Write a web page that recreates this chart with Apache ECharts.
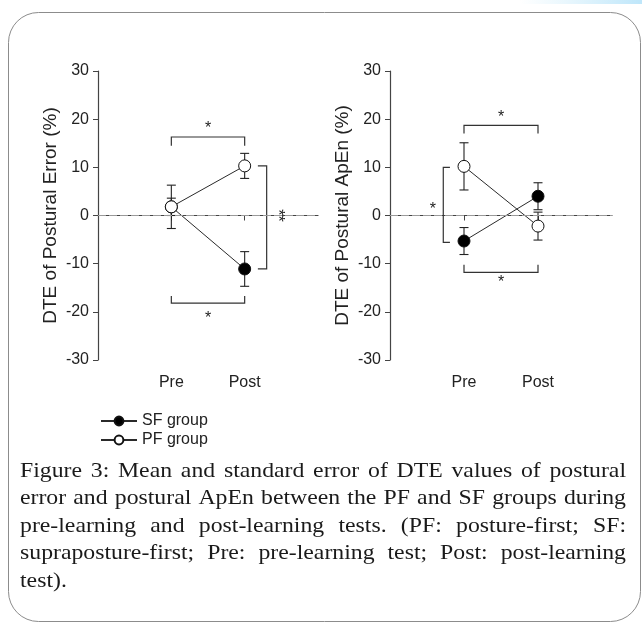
<!DOCTYPE html>
<html><head><meta charset="utf-8">
<script src="https://cdn.jsdelivr.net/npm/echarts@6/dist/echarts.min.js"></script>
<style>html,body{margin:0;padding:0;background:#fff}#c{width:642px;height:622px}</style>
</head><body><div id="c"></div>
<script>
// ---- data ----
const categories = ['Pre', 'Post'];
const yTicks = [-30, -20, -10, 0, 10, 20, 30];
// DTE of Postural Error (%)
const errSFMean = [1.8, -11.1];
const errSFSE = [1.8, 3.6];
const errPFMean = [1.8, 10.3];
const errPFSE = [4.5, 2.6];
// DTE of Postural ApEn (%)
const apSFMean = [-5.3, 4.0];
const apSFSE = [2.8, 2.8];
const apPFMean = [10.2, -2.2];
const apPFSE = [4.9, 2.9];
const seriesNames = ['SF group', 'PF group'];
const axisTitles = ['DTE of Postural Error (%)', 'DTE of Postural ApEn (%)'];
const captionLines = [
  'Figure 3: Mean and standard error of DTE values of postural',
  'error and postural ApEn between the PF and SF groups during',
  'pre-learning and post-learning tests. (PF: posture-first; SF:',
  'supraposture-first; Pre: pre-learning test; Post: post-learning',
  'test).'
];
// significance annotations (data coordinates)
const leftBrackets = [
  [[1, 14.5], [1, 16.3], [2, 16.3], [2, 14.5]],
  [[1, -16.7], [1, -18.2], [2, -18.2], [2, -16.7]],
  [[2.18, 10.3], [2.3, 10.3], [2.3, -11.1], [2.18, -11.1]]
];
const leftStars = [['*', 1.5, 18.0, 0], ['*', 1.5, -21.4, 0], ['**', 2.45, 0, 1]];
const rightBrackets = [
  [[1, 17.0], [1, 18.7], [2, 18.7], [2, 17.0]],
  [[1, -10.2], [1, -11.8], [2, -11.8], [2, -10.2]],
  [[0.81, 10.0], [0.72, 10.0], [0.72, -5.6], [0.81, -5.6]]
];
const rightStars = [['*', 1.5, 20.3, 0], ['*', 1.5, -14.0, 0], ['*', 0.58, 1.2, 0]];

// ---- helpers ----
const pts = (means) => means.map((m, i) => [i + 1, m]);
const errPts = (means, ses) => means.map((m, i) => [i + 1, m, ses[i]]);
const INK = '#222';
const SANS = '"Liberation Sans", Arial, sans-serif';

function errorBarSeries(idx, data) {
  return {
    type: 'custom', xAxisIndex: idx, yAxisIndex: idx, z: 1, silent: true,
    data: data, encode: { x: 0, y: 1 },
    renderItem: function (params, api) {
      const x = api.value(0), m = api.value(1), s = api.value(2);
      const t = api.coord([x, m + s]), b = api.coord([x, m - s]);
      const hw = 4.5;
      const st = { stroke: INK, lineWidth: 1.1 };
      return { type: 'group', children: [
        { type: 'line', shape: { x1: t[0], y1: t[1], x2: b[0], y2: b[1] }, style: st },
        { type: 'line', shape: { x1: t[0] - hw, y1: t[1], x2: t[0] + hw, y2: t[1] }, style: st },
        { type: 'line', shape: { x1: b[0] - hw, y1: b[1], x2: b[0] + hw, y2: b[1] }, style: st }
      ] };
    }
  };
}
function annotationSeries(idx, brackets, stars) {
  return {
    type: 'custom', xAxisIndex: idx, yAxisIndex: idx, z: 1, silent: true,
    data: [[1, 0]], encode: { x: 0, y: 1 },
    renderItem: function (params, api) {
      const children = [];
      brackets.forEach(b => {
        children.push({ type: 'polyline', shape: { points: b.map(p => api.coord(p)) },
          style: { stroke: '#333', lineWidth: 1.2, fill: null } });
      });
      stars.forEach(s => {
        const c = api.coord([s[1], s[2]]);
        children.push({ type: 'text', x: c[0], y: c[1], rotation: s[3] ? -Math.PI / 2 : 0,
          style: { text: s[0], font: '16px ' + SANS, fill: INK,
            align: 'center', verticalAlign: 'middle' } });
      });
      return { type: 'group', children };
    }
  };
}
function lineSeries(idx, name, data, filled, withZero) {
  const s = {
    type: 'line', name: name, xAxisIndex: idx, yAxisIndex: idx, z: filled ? 3 : 4,
    data: data, symbol: 'circle', symbolSize: 12,
    lineStyle: { color: '#2a2a2a', width: 1 },
    itemStyle: { color: filled ? '#000' : '#fff', borderColor: '#111', borderWidth: 1 },
    emphasis: { disabled: true }, animation: false
  };
  if (withZero) {
    s.markLine = { silent: true, symbol: ['none', 'none'], label: { show: false },
      lineStyle: { type: [8, 3], color: '#9a9a9a', width: 1 }, data: [{ yAxis: 0 }] };
  }
  return s;
}
function xAxis(idx) {
  return {
    gridIndex: idx, type: 'value', min: 0, max: 3, interval: 1,
    axisLine: { show: true, lineStyle: { color: '#444', width: 1.2 } },
    axisTick: { show: true, length: 5, customValues: [1, 2], lineStyle: { color: '#444' } },
    axisLabel: { customValues: [1, 2], formatter: v => categories[v - 1] || '',
      color: INK, fontSize: 16, margin: 15, fontFamily: SANS },
    splitLine: { show: false }
  };
}
function yAxis(idx) {
  return {
    gridIndex: idx, type: 'value', min: yTicks[0], max: yTicks[yTicks.length - 1], interval: 10,
    name: axisTitles[idx], nameLocation: 'middle', nameGap: 38,
    nameTextStyle: { fontSize: 19, color: INK, fontFamily: SANS },
    axisLine: { show: true, lineStyle: { color: '#444', width: 1.2 } },
    axisTick: { show: true, length: 5, lineStyle: { color: '#444' } },
    axisLabel: { color: INK, fontSize: 16, margin: 9, fontFamily: SANS },
    splitLine: { show: false }
  };
}

// ---- caption (justified) ----
const capSize = 22, capScale = 1.08;
const capFont = capSize + 'px "Liberation Serif", "Times New Roman", serif';
const ctx = document.createElement('canvas').getContext('2d');
ctx.font = capFont;
const capLeft = 20, capRight = 626, capTop = 471, capStep = 27.5;
const graphics = [];
captionLines.forEach((line, li) => {
  const words = line.split(' ');
  const widths = words.map(w => ctx.measureText(w).width * capScale);
  const total = widths.reduce((a, b) => a + b, 0);
  const last = li === captionLines.length - 1;
  const gap = last || words.length < 2 ? ctx.measureText(' ').width * capScale
    : (capRight - capLeft - total) / (words.length - 1);
  let x = capLeft;
  words.forEach((w, wi) => {
    graphics.push({ type: 'text', x: x, y: capTop + li * capStep, scaleX: capScale,
      style: { text: w, font: capFont, fill: '#1a1a1a', verticalAlign: 'middle', align: 'left' } });
    x += widths[wi] + gap;
  });
});
graphics.push({ type: 'rect', shape: { x: 8.5, y: 12.5, width: 632, height: 609, r: 30 },
  style: { stroke: '#8c8c8c', lineWidth: 1, fill: null }, z: -1 });
graphics.push({ type: 'rect', shape: { x: 520, y: 0, width: 122, height: 4 },
  style: { fill: { type: 'linear', x: 0, y: 0, x2: 1, y2: 0,
    colorStops: [{ offset: 0, color: 'rgba(200,235,250,0)' }, { offset: 1, color: 'rgba(190,230,250,1)' }] } } });

const chart = echarts.init(document.getElementById('c'), null, { renderer: 'canvas' });
chart.setOption({
  animation: false,
  backgroundColor: '#fff',
  textStyle: { fontFamily: SANS },
  grid: [
    { left: 98, top: 71, width: 220, height: 289 },
    { left: 390, top: 71, width: 222, height: 289 }
  ],
  xAxis: [xAxis(0), xAxis(1)],
  yAxis: [yAxis(0), yAxis(1)],
  legend: {
    data: seriesNames, orient: 'vertical', left: 95, top: 408, itemWidth: 36, itemHeight: 11,
    itemGap: 3, textStyle: { fontSize: 16, color: INK }, selectedMode: false
  },
  graphic: graphics,
  series: [
    errorBarSeries(0, errPts(errSFMean, errSFSE)),
    errorBarSeries(0, errPts(errPFMean, errPFSE)),
    annotationSeries(0, leftBrackets, leftStars),
    lineSeries(0, seriesNames[0], pts(errSFMean), true, true),
    lineSeries(0, seriesNames[1], pts(errPFMean), false, false),
    errorBarSeries(1, errPts(apSFMean, apSFSE)),
    errorBarSeries(1, errPts(apPFMean, apPFSE)),
    annotationSeries(1, rightBrackets, rightStars),
    lineSeries(1, seriesNames[0], pts(apSFMean), true, true),
    lineSeries(1, seriesNames[1], pts(apPFMean), false, false)
  ]
});
</script></body></html>
